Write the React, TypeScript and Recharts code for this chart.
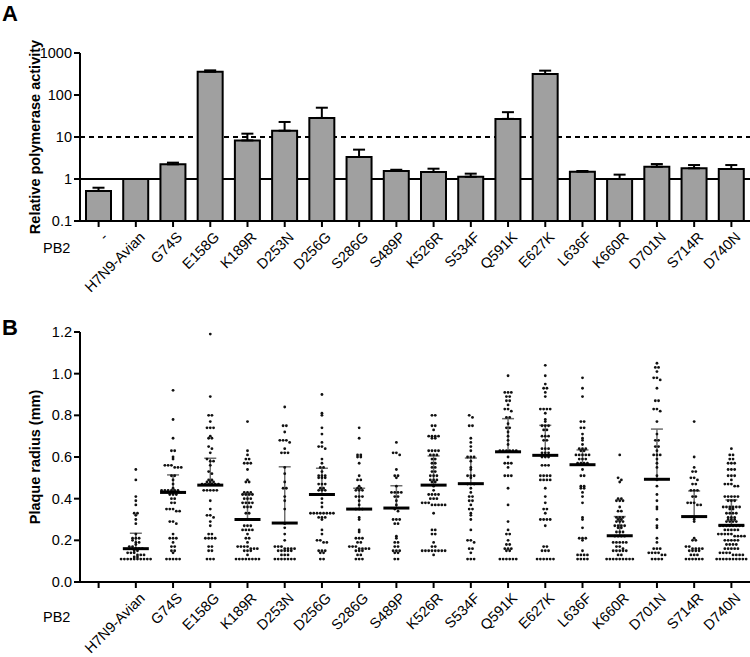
import React from 'react';
import {
  BarChart, Bar, ScatterChart, Scatter, XAxis, YAxis, ErrorBar, ReferenceLine,
} from 'recharts';

// Panel A: relative polymerase activity (log scale)
const categoriesA = ['-', 'H7N9-Avian', 'G74S', 'E158G', 'K189R', 'D253N', 'D256G', 'S286G', 'S489P', 'K526R', 'S534F', 'Q591K', 'E627K', 'L636F', 'K660R', 'D701N', 'S714R', 'D740N'];
const activity = [0.52, 1, 2.24, 358, 8.3, 14.1, 28.4, 3.34, 1.55, 1.47, 1.13, 27, 316, 1.49, 1.0, 1.96, 1.8, 1.73];
const activityUpper = [0.62, 1, 2.45, 386, 12, 22.8, 49.8, 5.0, 1.66, 1.76, 1.34, 39, 380, 1.55, 1.27, 2.27, 2.15, 2.15];
const ticksA = [0.1, 1, 10, 100, 1000];

// Panel B: plaque radius (mm)
const categoriesB = ['', 'H7N9-Avian', 'G74S', 'E158G', 'K189R', 'D253N', 'D256G', 'S286G', 'S489P', 'K526R', 'S534F', 'Q591K', 'E627K', 'L636F', 'K660R', 'D701N', 'S714R', 'D740N'];
const ticksB = [0, 0.2, 0.4, 0.6, 0.8, 1.0, 1.2];
const medians = [0.16, 0.43, 0.465, 0.30, 0.283, 0.42, 0.35, 0.355, 0.465, 0.472, 0.625, 0.608, 0.563, 0.222, 0.493, 0.314, 0.272];
const upperQ = [0.234, 0.514, 0.594, 0.42, 0.553, 0.546, 0.45, 0.462, 0.605, 0.595, 0.784, 0.752, 0.634, 0.314, 0.734, 0.437, 0.394];

const h7n9Avian = [0.54, 0.49, 0.41, 0.39, 0.37, 0.33, 0.33, 0.32, 0.30, 0.28, 0.23, 0.21, 0.21, 0.21, 0.20, 0.19, 0.19, 0.18, 0.17, 0.17, 0.16, 0.16, 0.16, 0.15, 0.15, 0.14, 0.14, 0.14, 0.13, 0.13, 0.13, 0.12, 0.12, 0.11, 0.11, 0.11, 0.11, 0.11, 0.11, 0.11, 0.11, 0.11, 0.11];
const g74s = [0.92, 0.78, 0.69, 0.63, 0.63, 0.60, 0.59, 0.56, 0.56, 0.56, 0.55, 0.55, 0.55, 0.51, 0.51, 0.49, 0.47, 0.45, 0.44, 0.44, 0.44, 0.44, 0.44, 0.44, 0.43, 0.43, 0.42, 0.42, 0.42, 0.40, 0.40, 0.38, 0.38, 0.35, 0.35, 0.35, 0.34, 0.34, 0.29, 0.29, 0.28, 0.23, 0.21, 0.21, 0.21, 0.19, 0.17, 0.17, 0.15, 0.15, 0.14, 0.11, 0.11, 0.11, 0.11, 0.11];
const e158g = [1.19, 0.89, 0.80, 0.80, 0.77, 0.74, 0.74, 0.74, 0.70, 0.69, 0.69, 0.65, 0.64, 0.62, 0.59, 0.58, 0.58, 0.56, 0.53, 0.52, 0.49, 0.49, 0.48, 0.48, 0.48, 0.47, 0.47, 0.47, 0.47, 0.47, 0.47, 0.44, 0.44, 0.44, 0.44, 0.44, 0.39, 0.35, 0.32, 0.32, 0.31, 0.29, 0.27, 0.23, 0.23, 0.21, 0.21, 0.21, 0.21, 0.17, 0.17, 0.15, 0.15, 0.11, 0.11, 0.11];
const k189r = [0.77, 0.63, 0.61, 0.59, 0.59, 0.57, 0.57, 0.57, 0.54, 0.49, 0.48, 0.48, 0.43, 0.43, 0.43, 0.42, 0.42, 0.42, 0.42, 0.40, 0.40, 0.40, 0.38, 0.38, 0.38, 0.38, 0.36, 0.36, 0.36, 0.33, 0.33, 0.30, 0.27, 0.27, 0.27, 0.25, 0.25, 0.25, 0.25, 0.23, 0.21, 0.21, 0.19, 0.17, 0.17, 0.17, 0.17, 0.16, 0.16, 0.16, 0.15, 0.15, 0.15, 0.13, 0.11, 0.11, 0.11, 0.11, 0.11, 0.11, 0.11, 0.11];
const d253n = [0.84, 0.75, 0.75, 0.72, 0.68, 0.68, 0.68, 0.67, 0.64, 0.62, 0.62, 0.62, 0.55, 0.52, 0.48, 0.45, 0.45, 0.41, 0.39, 0.35, 0.28, 0.26, 0.23, 0.20, 0.17, 0.17, 0.17, 0.16, 0.16, 0.16, 0.16, 0.15, 0.15, 0.15, 0.15, 0.15, 0.13, 0.13, 0.13, 0.11, 0.11, 0.11, 0.11, 0.11, 0.11, 0.11];
const d256g = [0.90, 0.81, 0.80, 0.74, 0.71, 0.67, 0.65, 0.65, 0.64, 0.59, 0.57, 0.55, 0.55, 0.53, 0.51, 0.51, 0.51, 0.50, 0.50, 0.50, 0.47, 0.47, 0.47, 0.45, 0.45, 0.44, 0.44, 0.44, 0.40, 0.38, 0.36, 0.33, 0.33, 0.33, 0.33, 0.33, 0.33, 0.33, 0.33, 0.31, 0.31, 0.31, 0.30, 0.25, 0.23, 0.20, 0.20, 0.19, 0.19, 0.15, 0.15, 0.15, 0.14, 0.14, 0.11, 0.11];
const s286g = [0.74, 0.69, 0.61, 0.61, 0.60, 0.60, 0.57, 0.51, 0.49, 0.49, 0.46, 0.45, 0.45, 0.44, 0.44, 0.44, 0.41, 0.41, 0.41, 0.39, 0.37, 0.35, 0.35, 0.35, 0.31, 0.30, 0.25, 0.24, 0.21, 0.21, 0.21, 0.19, 0.19, 0.17, 0.17, 0.17, 0.16, 0.16, 0.16, 0.16, 0.15, 0.15, 0.15, 0.13, 0.13, 0.11, 0.11, 0.11];
const s489p = [0.67, 0.62, 0.62, 0.61, 0.54, 0.51, 0.51, 0.50, 0.46, 0.43, 0.43, 0.43, 0.43, 0.41, 0.41, 0.39, 0.37, 0.35, 0.34, 0.30, 0.30, 0.30, 0.28, 0.28, 0.22, 0.21, 0.19, 0.19, 0.17, 0.17, 0.15, 0.15, 0.15, 0.14, 0.14, 0.11, 0.11];
const k526r = [0.80, 0.80, 0.75, 0.75, 0.73, 0.70, 0.70, 0.70, 0.70, 0.69, 0.69, 0.63, 0.63, 0.63, 0.63, 0.61, 0.61, 0.61, 0.59, 0.59, 0.57, 0.57, 0.55, 0.55, 0.53, 0.53, 0.51, 0.51, 0.51, 0.49, 0.49, 0.49, 0.48, 0.48, 0.46, 0.44, 0.42, 0.42, 0.42, 0.42, 0.40, 0.40, 0.40, 0.38, 0.38, 0.38, 0.37, 0.37, 0.37, 0.37, 0.37, 0.33, 0.25, 0.25, 0.23, 0.23, 0.19, 0.17, 0.17, 0.15, 0.15, 0.15, 0.15, 0.15, 0.15, 0.15, 0.15, 0.13];
const s534f = [0.80, 0.79, 0.75, 0.75, 0.69, 0.67, 0.65, 0.63, 0.60, 0.60, 0.60, 0.58, 0.55, 0.54, 0.51, 0.51, 0.51, 0.50, 0.47, 0.47, 0.47, 0.45, 0.43, 0.41, 0.41, 0.39, 0.39, 0.37, 0.35, 0.35, 0.33, 0.32, 0.30, 0.25, 0.20, 0.20, 0.19, 0.16, 0.16, 0.14, 0.11, 0.11, 0.11];
const q591k = [0.99, 0.91, 0.91, 0.91, 0.89, 0.89, 0.87, 0.87, 0.85, 0.83, 0.83, 0.82, 0.79, 0.79, 0.76, 0.74, 0.74, 0.72, 0.70, 0.68, 0.66, 0.63, 0.63, 0.63, 0.63, 0.63, 0.63, 0.60, 0.57, 0.57, 0.57, 0.55, 0.51, 0.51, 0.51, 0.45, 0.37, 0.29, 0.25, 0.23, 0.23, 0.20, 0.18, 0.18, 0.16, 0.16, 0.16, 0.15, 0.15, 0.11, 0.11, 0.11, 0.11, 0.11, 0.11];
const e627k = [1.04, 0.99, 0.95, 0.93, 0.93, 0.91, 0.89, 0.83, 0.83, 0.83, 0.83, 0.81, 0.78, 0.77, 0.75, 0.75, 0.75, 0.73, 0.73, 0.70, 0.70, 0.70, 0.68, 0.68, 0.64, 0.64, 0.64, 0.62, 0.62, 0.62, 0.60, 0.60, 0.60, 0.56, 0.56, 0.56, 0.51, 0.51, 0.51, 0.51, 0.49, 0.49, 0.49, 0.49, 0.45, 0.41, 0.38, 0.35, 0.35, 0.33, 0.30, 0.30, 0.30, 0.30, 0.27, 0.17, 0.17, 0.15, 0.15, 0.15, 0.11, 0.11, 0.11, 0.11, 0.11, 0.11];
const l636f = [0.98, 0.93, 0.89, 0.77, 0.77, 0.74, 0.74, 0.71, 0.69, 0.68, 0.66, 0.64, 0.64, 0.64, 0.63, 0.63, 0.61, 0.61, 0.61, 0.61, 0.61, 0.59, 0.59, 0.59, 0.57, 0.57, 0.57, 0.57, 0.54, 0.51, 0.51, 0.46, 0.46, 0.45, 0.45, 0.43, 0.41, 0.38, 0.31, 0.30, 0.26, 0.21, 0.21, 0.21, 0.20, 0.15, 0.13, 0.13, 0.13, 0.13, 0.11, 0.11, 0.11, 0.11];
const k660r = [0.61, 0.50, 0.49, 0.48, 0.40, 0.40, 0.39, 0.39, 0.39, 0.36, 0.34, 0.34, 0.31, 0.31, 0.31, 0.30, 0.30, 0.29, 0.29, 0.29, 0.27, 0.27, 0.27, 0.27, 0.26, 0.26, 0.24, 0.24, 0.24, 0.22, 0.22, 0.22, 0.22, 0.19, 0.19, 0.19, 0.19, 0.19, 0.17, 0.17, 0.16, 0.15, 0.15, 0.15, 0.15, 0.15, 0.13, 0.13, 0.11, 0.11, 0.11, 0.11, 0.11, 0.11, 0.11, 0.11, 0.11];
const d701n = [1.05, 1.03, 1.03, 1.01, 0.98, 0.98, 0.97, 0.93, 0.87, 0.87, 0.83, 0.83, 0.82, 0.77, 0.71, 0.68, 0.68, 0.65, 0.65, 0.63, 0.61, 0.61, 0.61, 0.59, 0.57, 0.55, 0.51, 0.49, 0.46, 0.42, 0.39, 0.36, 0.35, 0.30, 0.27, 0.26, 0.21, 0.19, 0.16, 0.16, 0.16, 0.14, 0.14, 0.14, 0.14, 0.13, 0.13, 0.11, 0.11, 0.11, 0.11];
const s714r = [0.77, 0.60, 0.55, 0.53, 0.53, 0.50, 0.50, 0.49, 0.47, 0.47, 0.44, 0.44, 0.44, 0.41, 0.41, 0.38, 0.38, 0.38, 0.37, 0.37, 0.31, 0.30, 0.29, 0.21, 0.20, 0.20, 0.17, 0.17, 0.16, 0.16, 0.16, 0.16, 0.15, 0.15, 0.15, 0.15, 0.13, 0.13, 0.13, 0.11, 0.11, 0.11, 0.11, 0.11, 0.11];
const d740n = [0.64, 0.61, 0.61, 0.59, 0.59, 0.57, 0.57, 0.57, 0.54, 0.54, 0.54, 0.51, 0.51, 0.51, 0.49, 0.47, 0.47, 0.47, 0.46, 0.46, 0.41, 0.41, 0.41, 0.41, 0.41, 0.39, 0.39, 0.39, 0.36, 0.36, 0.36, 0.36, 0.36, 0.36, 0.35, 0.35, 0.33, 0.33, 0.33, 0.33, 0.31, 0.31, 0.31, 0.30, 0.30, 0.30, 0.29, 0.29, 0.29, 0.29, 0.27, 0.27, 0.27, 0.27, 0.27, 0.27, 0.27, 0.27, 0.25, 0.25, 0.25, 0.25, 0.25, 0.23, 0.23, 0.23, 0.23, 0.23, 0.22, 0.22, 0.22, 0.22, 0.20, 0.20, 0.20, 0.20, 0.20, 0.18, 0.18, 0.18, 0.18, 0.16, 0.16, 0.16, 0.16, 0.16, 0.14, 0.14, 0.14, 0.14, 0.13, 0.13, 0.13, 0.13, 0.11, 0.11, 0.11, 0.11, 0.11, 0.11, 0.11, 0.11, 0.11, 0.11];

const plaqueGroups = [h7n9Avian, g74s, e158g, k189r, d253n, d256g, s286g, s489p, k526r, s534f, q591k, e627k, l636f, k660r, d701n, s714r, d740n];

const FONT = 'Arial, "Liberation Sans", Helvetica, sans-serif';

const barData = categoriesA.map((name, i) => ({
  name,
  value: activity[i],
  err: [0, activityUpper[i] - activity[i]],
}));

// spread dots sideways when they share a value (beeswarm-ish)
const SWARM_STEP = 0.088;
const dotData: { x: number; y: number }[] = [];
plaqueGroups.forEach((vals, g) => {
  const bins = new Map<number, number[]>();
  vals.forEach((v) => {
    const key = Math.round(v / 0.015);
    if (!bins.has(key)) bins.set(key, []);
    bins.get(key)!.push(v);
  });
  bins.forEach((list) => {
    list.forEach((v, k) => {
      dotData.push({ x: g + 1 + (k - (list.length - 1) / 2) * SWARM_STEP, y: v });
    });
  });
});

const medianData = medians.map((m, i) => ({ x: i + 1, y: m, err: [0, upperQ[i] - m] }));
const tickIdxB = categoriesB.map((_, i) => i);

const SlantTick = (props: any) => {
  const { x, y, payload, labels } = props;
  const text = labels ? labels[payload.value] : payload.value;
  return (
    <g transform={`translate(${x + 10},${y + 9})`}>
      <text x={0} y={0} textAnchor="end" transform="rotate(-45)" fontSize={14.5} fill="#000">{text}</text>
    </g>
  );
};

const Dot = (props: any) => <circle cx={props.cx} cy={props.cy} r={1.4} fill="#111" />;
const MedianLine = (props: any) => (
  <line x1={props.cx - 13} x2={props.cx + 13} y1={props.cy} y2={props.cy} stroke="#000" strokeWidth={3} />
);

const axisStyle = { stroke: '#000', strokeWidth: 2 };
const tickStyle = { fill: '#000', fontSize: 14.5 };

const rotLabel = (text: string, cx: number, cy: number) => (
  <div style={{
    position: 'absolute', left: cx, top: cy, transform: 'translate(-50%,-50%) rotate(-90deg)',
    whiteSpace: 'nowrap', fontWeight: 'bold', fontSize: 14.5,
  }}>{text}</div>
);

export default function App() {
  return (
    <div style={{ position: 'absolute', left: 0, top: 0, width: 750, height: 657, background: '#fff', fontFamily: FONT, color: '#000' }}>
      <div style={{ position: 'absolute', left: 2, top: 1, fontSize: 22, fontWeight: 'bold' }}>A</div>
      <div style={{ position: 'absolute', left: 2, top: 315, fontSize: 22, fontWeight: 'bold' }}>B</div>
      <div style={{ position: 'absolute', left: 43, top: 240, fontSize: 14.5 }}>PB2</div>
      <div style={{ position: 'absolute', left: 43, top: 609, fontSize: 14.5 }}>PB2</div>
      {rotLabel('Relative polymerase activity', 35, 137)}
      {rotLabel('Plaque radius (mm)', 35, 457)}

      <div style={{ position: 'absolute', left: 0, top: 0 }}>
        <BarChart width={750} height={300} data={barData} margin={{ top: 53, right: 0, left: 0, bottom: 0 }}>
          <XAxis dataKey="name" interval={0} height={79} tickSize={6} axisLine={axisStyle} tickLine={axisStyle}
            tick={<SlantTick />} />
          <YAxis scale="log" type="number" domain={[0.1, 1000]} ticks={ticksA} allowDataOverflow width={80}
            tickSize={6} axisLine={axisStyle} tickLine={axisStyle} tick={tickStyle}
            tickFormatter={(v: number) => String(v)} />
          <ReferenceLine y={1} stroke="#000" strokeWidth={2} zIndex={-10} />
          <ReferenceLine y={10} stroke="#000" strokeWidth={2} strokeDasharray="5 4" zIndex={-10} />
          <Bar dataKey="value" fill="#a0a0a0" stroke="#000" strokeWidth={2} barSize={25} isAnimationActive={false}>
            <ErrorBar dataKey="err" direction="y" width={6} stroke="#000" strokeWidth={2} />
          </Bar>
        </BarChart>
      </div>

      <div style={{ position: 'absolute', left: 0, top: 300 }}>
        <ScatterChart width={750} height={357} margin={{ top: 32, right: 0, left: 0, bottom: 0 }}>
          <XAxis type="number" dataKey="x" domain={[-0.5, 17.5]} ticks={tickIdxB} interval={0} allowDataOverflow
            height={75} tickSize={6} axisLine={axisStyle} tickLine={axisStyle}
            tick={<SlantTick labels={categoriesB} />} />
          <YAxis type="number" dataKey="y" domain={[0, 1.2]} ticks={ticksB} allowDataOverflow width={80}
            tickSize={6} axisLine={axisStyle} tickLine={axisStyle} tick={tickStyle}
            tickFormatter={(v: number) => v.toFixed(1)} />
          <Scatter data={dotData} shape={<Dot />} isAnimationActive={false} />
          <Scatter data={medianData} shape={<MedianLine />} isAnimationActive={false}>
            <ErrorBar dataKey="err" direction="y" width={6} stroke="#6e6e6e" strokeWidth={1.5} />
          </Scatter>
        </ScatterChart>
      </div>
    </div>
  );
}
